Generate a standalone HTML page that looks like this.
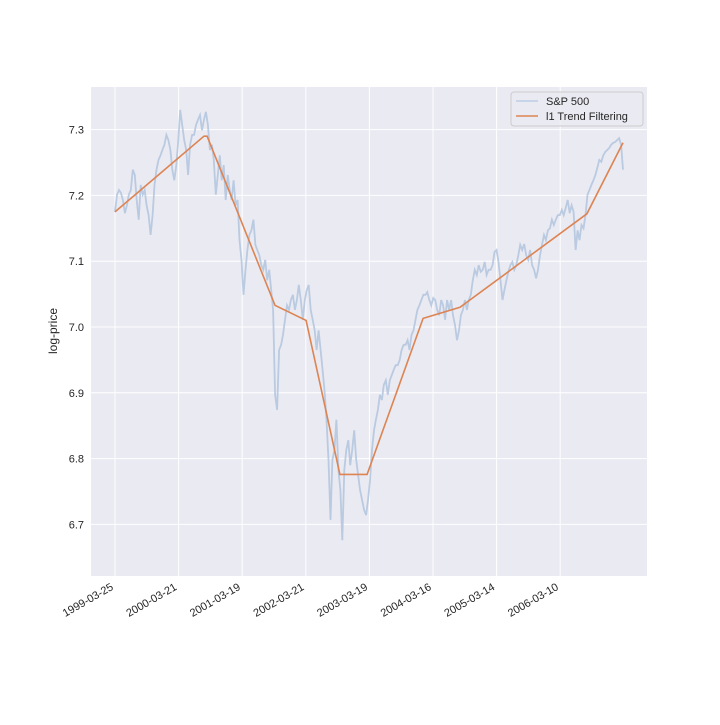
<!DOCTYPE html>
<html><head><meta charset="utf-8"><style>
html,body{margin:0;padding:0;background:#fff;}
text{font-family:"Liberation Sans","DejaVu Sans",sans-serif;fill:#262626;}
</style></head><body>
<svg id="chart" width="720" height="720" xmlns="http://www.w3.org/2000/svg">
<rect x="91" y="87" width="556" height="489" fill="#eaeaf2"/>
<g id="grid"></g>
<g id="series"></g>
<g id="axes"></g>
<text transform="translate(57,331) rotate(-90)" text-anchor="middle" font-size="12">log-price</text>
<g>
<rect x="511" y="92" width="132" height="34" rx="3" fill="#eaeaf2" fill-opacity="0.8" stroke="#cccccc"/>
<line x1="516" y1="101" x2="538" y2="101" stroke="#b0c4de" stroke-opacity="0.8" stroke-width="1.5"/>
<text x="546" y="105" font-size="11">S&amp;P 500</text>
<line x1="516" y1="116" x2="538" y2="116" stroke="#dd8452" stroke-width="1.5"/>
<text x="546" y="120" font-size="11">l1 Trend Filtering</text>
</g>
</svg>
<script>
const yTicks=[6.7,6.8,6.9,7.0,7.1,7.2,7.3];
const xTickIdx=[0,250,500,750,1000,1250,1500,1750];
const xTickLabels=["1999-03-25","2000-03-21","2001-03-19","2002-03-21","2003-03-19","2004-03-16","2005-03-14","2006-03-10"];
const nDays=1997;
const spValues=[7.175,7.201,7.208,7.204,7.193,7.173,7.185,7.201,7.208,7.239,7.231,7.193,7.163,7.216,7.201,7.208,7.185,7.170,7.140,7.170,7.216,7.239,7.254,7.261,7.269,7.277,7.292,7.284,7.269,7.239,7.223,7.246,7.284,
7.330,7.307,7.284,7.269,7.231,7.277,7.292,7.292,7.307,7.315,7.322,7.299,7.315,7.327,7.307,7.269,7.277,7.254,
7.201,7.231,7.261,7.223,7.246,7.193,7.231,7.208,7.193,7.223,7.185,7.193,7.132,7.102,7.049,7.087,7.117,7.140,7.147,7.163,7.125,7.117,7.109,7.094,7.087,7.102,7.071,7.087,7.056,7.026,6.897,6.874,6.965,6.973,6.988,7.011,7.033,7.026,7.041,7.049,7.026,7.041,7.064,7.041,7.011,7.041,7.056,7.064,7.026,7.011,6.995,6.965,6.995,6.965,6.935,6.904,6.859,6.798,6.707,6.798,6.813,6.859,6.783,6.752,6.676,6.783,6.813,6.828,6.790,6.813,6.843,6.798,6.775,6.752,6.737,6.722,6.714,6.737,6.767,6.813,6.843,6.859,6.874,6.897,6.889,6.912,6.919,6.897,6.919,6.927,6.935,6.942,6.942,6.950,6.965,6.973,6.973,6.980,6.965,6.988,6.995,7.011,7.026,7.033,7.041,7.049,7.049,7.053,7.041,7.033,7.044,7.041,7.026,7.018,7.041,7.033,7.011,7.041,7.026,7.041,7.018,7.003,6.980,6.995,7.018,7.026,7.041,7.026,7.041,7.049,7.071,7.087,7.079,7.094,7.084,7.087,7.099,7.079,7.087,7.087,7.094,7.114,7.117,7.099,7.071,7.041,7.056,7.071,7.084,7.094,7.099,7.087,7.094,7.109,7.125,7.117,7.126,7.109,7.102,7.117,7.094,7.087,7.074,7.087,7.109,7.125,7.140,7.132,7.147,7.150,7.163,7.155,7.163,7.170,7.170,7.178,7.170,7.181,7.193,7.173,7.185,7.175,7.117,7.147,7.132,7.155,7.150,7.170,7.201,7.208,7.216,7.223,7.231,7.242,7.254,7.251,7.261,7.266,7.269,7.272,7.277,7.280,7.281,7.284,7.287,7.277,7.239];
const trendIdx=[0,350,362,629,751,884,991,1211,1356,1855,1997];
const trendVal=[7.175,7.290,7.290,7.033,7.010,6.776,6.776,7.013,7.030,7.172,7.280];

const NS="http://www.w3.org/2000/svg";
const xS=i=>115+i*63.6/250;
const yS=v=>327-(v-7)*658;
function mk(tag,attrs,parent){const e=document.createElementNS(NS,tag);for(const k in attrs)e.setAttribute(k,attrs[k]);parent.appendChild(e);return e;}
const grid=document.getElementById('grid'),axes=document.getElementById('axes'),series=document.getElementById('series');
yTicks.forEach(v=>{
  const l=mk('line',{x1:91,x2:647,y1:yS(v),y2:yS(v),stroke:'#fff','stroke-width':1},grid);
  
  
  const t=mk('text',{x:84,y:yS(v)+4,'text-anchor':'end','font-size':11},axes);
  t.textContent=v.toFixed(1);
  
  
});
xTickIdx.forEach((d,k)=>{
  const x=xS(d);
  const l=mk('line',{x1:x,x2:x,y1:87,y2:576,stroke:'#fff','stroke-width':1},grid);
  
  
  const t=mk('text',{x:0,y:0,'text-anchor':'end','font-size':11,transform:`translate(${x-1},${589}) rotate(-30)`},axes);
  t.textContent=xTickLabels[k];
  
  
});
const n=spValues.length;
const sp=mk('polyline',{points:spValues.map((v,i)=>xS(i*nDays/(n-1)).toFixed(1)+','+yS(v).toFixed(1)).join(' '),fill:'none',stroke:'#b0c4de','stroke-opacity':0.85,'stroke-width':1.8},series);


const tr=mk('polyline',{points:trendIdx.map((d,i)=>xS(d).toFixed(1)+','+yS(trendVal[i]).toFixed(1)).join(' '),fill:'none',stroke:'#dd8452','stroke-width':1.6},series);


</script>
</body></html>
